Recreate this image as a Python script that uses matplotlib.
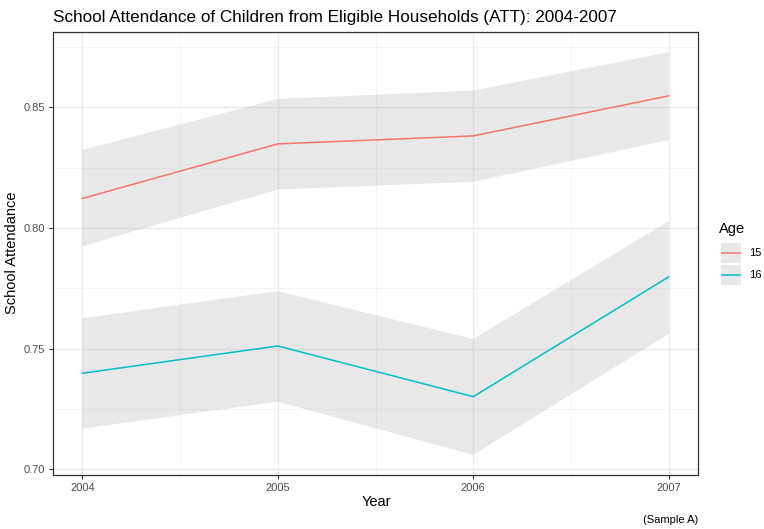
import matplotlib
matplotlib.use("Agg")
import matplotlib.pyplot as plt
from matplotlib.patches import Rectangle
from matplotlib.lines import Line2D
from matplotlib.ticker import MultipleLocator

plt.rcParams['font.family'] = ['Liberation Sans', 'DejaVu Sans']

years = [2004, 2005, 2006, 2007]
ages = ["15", "16"]
att_15 = [0.8122, 0.8348, 0.8381, 0.8547]
lo_15 = [0.7924, 0.8159, 0.8191, 0.8364]
hi_15 = [0.8323, 0.8534, 0.8569, 0.8728]
att_16 = [0.7398, 0.7511, 0.7301, 0.7797]
lo_16 = [0.7169, 0.7280, 0.7060, 0.7561]
hi_16 = [0.7626, 0.7738, 0.7540, 0.8028]
colors = ["#F8766D", "#00BFC4"]

W, H = 764, 529


def fx(x):
    return x / W


def fy(y):
    return 1 - y / H


fig = plt.figure(figsize=(W / 100, H / 100), dpi=100)
ax = fig.add_axes([fx(53), fy(475), (698 - 53) / W, (475 - 32) / H])

RIB = "#999999"
RIB_A = 0.22
series = [(att_15, lo_15, hi_15), (att_16, lo_16, hi_16)]
for (m, lo, hi), c in zip(series, colors):
    ax.fill_between(years, lo, hi, facecolor=RIB, alpha=RIB_A, linewidth=0, zorder=2)
    ax.plot(years, m, color=c, linewidth=1.1, zorder=3)

ymin = min(lo_15 + lo_16)
ymax = max(hi_15 + hi_16)
pad = (ymax - ymin) * 0.05
ax.set_ylim(ymin - pad, ymax + pad)
ax.set_xlim(years[0] - 0.15, years[-1] + 0.15)

ax.set_xticks(years)
ax.set_xticklabels([str(y) for y in years])
ax.set_yticks([0.70, 0.75, 0.80, 0.85])
ax.set_yticklabels(["0.70", "0.75", "0.80", "0.85"])
ax.xaxis.set_minor_locator(MultipleLocator(0.5))
ax.yaxis.set_minor_locator(MultipleLocator(0.025))
ax.grid(which="major", color="#EBEBEB", linewidth=1.0, zorder=0)
ax.grid(which="minor", color="#F2F2F2", linewidth=0.6, zorder=0)
ax.set_axisbelow(True)
ax.tick_params(which="major", direction="out", length=3, width=0.8, color="#333333",
               labelcolor="#4D4D4D", labelsize=8, pad=3)
ax.tick_params(which="minor", length=0)
for s in ax.spines.values():
    s.set_color("#333333")
    s.set_linewidth(0.9)

ax.set_xlabel("Year", fontsize=10.5, color="black")
ax.set_ylabel("School Attendance", fontsize=10.5, color="black")
ax.xaxis.set_label_coords((376 - 53) / 645, -(495 - 475) / 443)
ax.yaxis.set_label_coords(-(53 - 19) / 645, (475 - 253) / 443)

fig.text(fx(53), fy(22), "School Attendance of Children from Eligible Households (ATT): 2004-2007",
         fontsize=12.3, ha="left", va="baseline", color="black")
fig.text(fx(698), fy(520), "(Sample A)", fontsize=8, ha="right", va="center", color="black")

# legend (drawn in figure pixel positions)
fig.text(fx(719), fy(229), "Age", fontsize=10.5, ha="left", va="center", color="black")
key_tops = [243, 265]
for top, c, lab in zip(key_tops, colors, ages):
    fig.add_artist(Rectangle((fx(720.5), fy(top + 20)), 20 / W, 20 / H,
                             transform=fig.transFigure, facecolor=RIB, alpha=RIB_A,
                             edgecolor="none"))
    fig.add_artist(Line2D([fx(721.5), fx(739.5)], [fy(top + 10), fy(top + 10)],
                          transform=fig.transFigure, color=c, linewidth=1.1))
    fig.text(fx(749), fy(top + 10), lab, fontsize=8, ha="left", va="center", color="black")

fig.savefig("out.png", dpi=100)
